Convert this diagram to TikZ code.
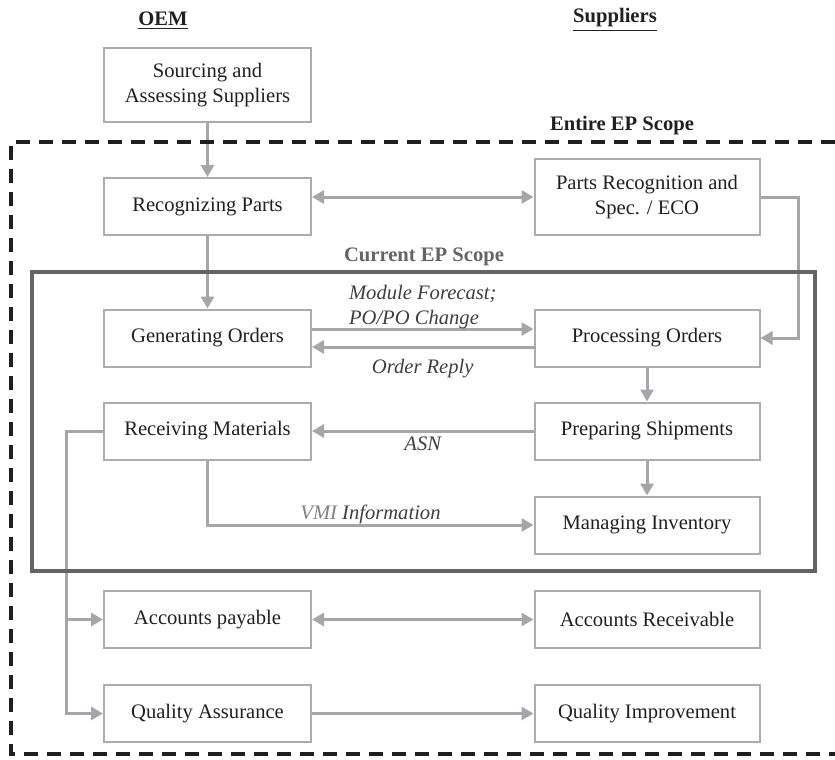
\documentclass[tikz,border=0pt]{standalone}
\usepackage{fontspec}
\setmainfont{Liberation Serif}
\usepackage{tikz}
\usetikzlibrary{arrows.meta, positioning}
\definecolor{BoxColor}{RGB}{172,172,175}
\definecolor{FlowColor}{RGB}{166,166,170}
\definecolor{TextColor}{RGB}{35,31,32}
\definecolor{MsgColor}{RGB}{62,62,64}
\definecolor{VmiColor}{RGB}{128,128,132}
\definecolor{ScopeColor}{RGB}{100,100,103}
\tikzset{
  procbox/.style={draw=BoxColor, line width=1pt, fill=white, minimum height=28.5pt, inner sep=0pt, align=center, text=TextColor},
  oem box/.style={procbox, minimum width=103.5pt},
  supplier box/.style={procbox, minimum width=112.5pt},
  flow/.style={draw=FlowColor, line width=1.5pt, -{Triangle[length=6pt, width=6.5pt]}},
  flowboth/.style={flow, {Triangle[length=6pt, width=6.5pt]}-{Triangle[length=6pt, width=6.5pt]}},
  msg/.style={font=\fontsize{10.3}{12.5}\selectfont\itshape, text=MsgColor, align=left},
  entire scope/.style={draw=black!88, line width=2pt, dash pattern=on 7pt off 4.5pt},
  current scope/.style={draw=ScopeColor, line width=2pt},
  side title/.style={font=\fontsize{10.3}{12.5}\selectfont\bfseries, text=TextColor}
}

\begin{document}
\begin{tikzpicture}[x=0.5pt, y=-0.5pt, font=\fontsize{10.3}{12.5}\selectfont]
    \useasboundingbox (0,0) rectangle (835,760);

    % Column titles
    \node[side title] (oem) at (163,21) {\underline{OEM}};
    \node[side title] (suppliers) at (615,20) {\underline{Suppliers}};

    % OEM side
    \node[oem box, minimum height=37pt] (sourcing) at (207.5,85) {Sourcing and\\Assessing Suppliers};
    \node[oem box] (recparts) at (207.5,206.5) {Recognizing Parts};
    \node[oem box] (genorders) at (207.5,338) {Generating Orders};
    \node[oem box] (recmat) at (207.5,431) {Receiving Materials};
    \node[oem box] (accpay) at (207.5,619.5) {Accounts payable};
    \node[oem box] (qualass) at (207.5,713.5) {Quality Assurance};

    % Supplier side
    \node[supplier box, minimum height=38pt] (partsrec) at (647,197) {Parts Recognition and\\Spec. / ECO};
    \node[supplier box] (procorders) at (647,338) {Processing Orders};
    \node[supplier box] (prepship) at (647,431) {Preparing Shipments};
    \node[supplier box] (maninv) at (647,525) {Managing Inventory};
    \node[supplier box] (accrec) at (647,619.5) {Accounts Receivable};
    \node[supplier box] (qualimp) at (647,713.5) {Quality Improvement};

    % Flows
    \draw[flow] (sourcing) -- (recparts);
    \draw[flowboth] (recparts.east |- partsrec.west) -- (partsrec.west);
    \draw[flow] (recparts) -- (genorders);
    \draw[flow] (partsrec.east) -- ++(38,0) |- (procorders.east);
    \draw[flow] ([yshift=4.5pt]genorders.east) -- ([yshift=4.5pt]procorders.west)
        node[msg, midway, above=-4pt] (forecast) {Module Forecast;\\PO/PO Change};
    \draw[flow] ([yshift=-4.5pt]procorders.west) -- ([yshift=-4.5pt]genorders.east)
        node[msg, midway, below=2pt] (reply) {Order Reply};
    \draw[flow] (procorders) -- (prepship);
    \draw[flow] (prepship) -- (maninv);
    \draw[flow] (prepship) -- (recmat) node[msg, midway, below=-1pt] (asn) {ASN};
    \draw[flow] (recmat) |- (maninv)
        node[msg, pos=0.75, above=-3.5pt] (vmi) {\textcolor{VmiColor}{VMI} Information};
    \draw[flow] (recmat.west) -- ++(-37,0) coordinate (split) |- (accpay);
    \draw[flow] (split) |- (qualass);
    \draw[flowboth] (accpay) -- (accrec);
    \draw[flow] (qualass) -- (qualimp);

    % Scopes
    \draw[current scope] (32,272) rectangle (815,571);
    \node[side title, text=ScopeColor] (curscope) at (424,257) {Current EP Scope};
    \draw[entire scope] (835,142) -- (11,142) -- (11,754) -- (835,754);
    \node[side title] (entscope) at (622,126) {Entire EP Scope};
\end{tikzpicture}
\end{document}
